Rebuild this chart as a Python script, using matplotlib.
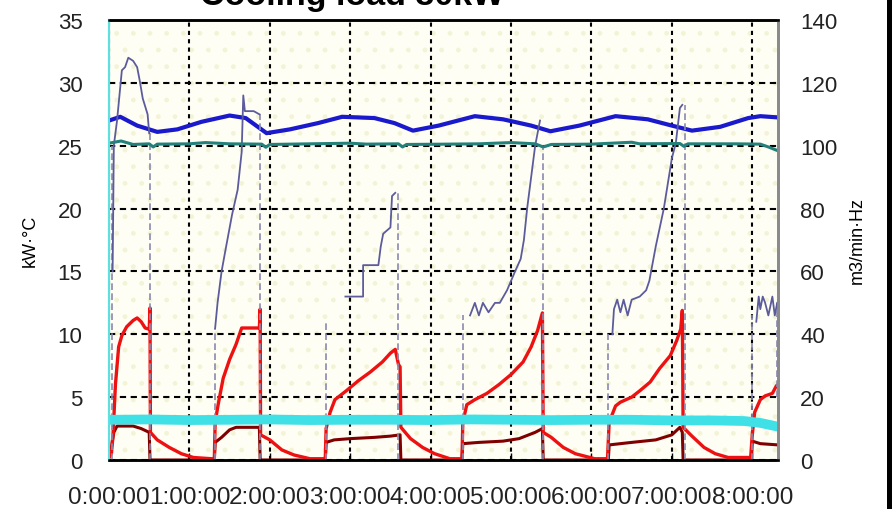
import matplotlib
matplotlib.use("Agg")
import matplotlib.pyplot as plt
import numpy as np
from matplotlib.patches import Rectangle

nan = np.nan

# time axis in hours
hour_ticks = np.arange(0, 9)
hour_labels = ["%d:00:00" % h for h in hour_ticks]

# cooling output, kW (left axis)
out_t = [0, 0.03, 0.05, 0.08, 0.12, 0.16, 0.22, 0.3, 0.35, 0.4, 0.45, 0.5, 0.51, 0.515, 0.6, 0.75, 0.9, 1.05, 1.28,
         1.31, 1.32, 1.36, 1.42, 1.5, 1.58, 1.65, 1.87, 1.88, 1.885, 2.0, 2.15, 2.3, 2.5, 2.69,
         2.70, 2.75, 2.81, 2.95, 3.1, 3.25, 3.4, 3.5, 3.56, 3.6, 3.62, 3.63, 3.75, 3.9, 4.05, 4.24, 4.39,
         4.40, 4.45, 4.55, 4.7, 4.85, 5.0, 5.15, 5.25, 5.33, 5.39, 5.40, 5.5, 5.65, 5.8, 6.04, 6.2,
         6.22, 6.3, 6.36, 6.5, 6.6, 6.73, 6.85, 6.98, 7.06, 7.11, 7.13, 7.14, 7.25, 7.4, 7.54, 7.7, 7.98,
         8.0, 8.03, 8.1, 8.16, 8.25, 8.3, 8.32]
out_kw = [0.2, 0.5, 2, 6, 9, 9.9, 10.6, 11.1, 11.3, 11.0, 10.5, 10.4, 12.1, 2.2, 1.6, 1.0, 0.5, 0.2, 0.1,
          0.1, 3.0, 4.5, 6.5, 8.0, 9.2, 10.5, 10.5, 12.0, 2.0, 1.6, 0.8, 0.4, 0.1, 0.1,
          2.5, 3.8, 4.8, 5.5, 6.3, 7.0, 7.8, 8.5, 8.8, 7.6, 7.4, 2.6, 1.7, 1.0, 0.5, 0.1, 0.1,
          3.0, 4.4, 4.8, 5.3, 6.0, 6.8, 7.8, 9.0, 10.3, 11.7, 2.2, 1.8, 1.0, 0.5, 0.1, 0.1,
          3.0, 4.3, 4.6, 5.0, 5.5, 6.2, 7.3, 8.3, 9.5, 10.4, 11.9, 2.6, 1.9, 1.0, 0.5, 0.2, 0.2,
          2.0, 3.8, 4.8, 5.1, 5.3, 5.9, 6.0]

# compressor input power, kW (left axis)
pw_t = [0, 0.03, 0.06, 0.1, 0.3, 0.4, 0.5, 0.51, 1.31,
        1.32, 1.4, 1.5, 1.58, 1.87, 1.88, 2.69,
        2.70, 2.8, 3.0, 3.3, 3.5, 3.62, 3.63, 4.39,
        4.40, 4.6, 4.9, 5.1, 5.3, 5.39, 5.40, 6.21,
        6.22, 6.5, 6.8, 7.0, 7.1, 7.13, 7.14, 7.99,
        8.0, 8.1, 8.32]
pw_kw = [0.3, 1.0, 2.2, 2.7, 2.7, 2.5, 2.2, 0, 0,
         1.4, 1.8, 2.4, 2.6, 2.6, 0, 0,
         1.4, 1.6, 1.7, 1.8, 1.9, 2.0, 0, 0,
         1.3, 1.4, 1.5, 1.7, 2.2, 2.5, 0, 0,
         1.2, 1.4, 1.6, 2.0, 2.6, 2.2, 0, 0,
         1.5, 1.3, 1.2]

# room temperature, degC (left axis)
room_t = [0, 0.14, 0.35, 0.6, 0.85, 1.15, 1.5, 1.7, 1.96, 2.25, 2.6, 2.9, 3.3, 3.55, 3.78, 4.1, 4.55, 4.9,
          5.25, 5.49, 5.85, 6.3, 6.7, 7.0, 7.25, 7.6, 7.95, 8.1, 8.32]
room_c = [27.0, 27.3, 26.6, 26.1, 26.3, 26.9, 27.4, 27.2, 26.0, 26.3, 26.8, 27.3, 27.2, 26.8, 26.2, 26.6, 27.35, 27.1,
          26.6, 26.15, 26.6, 27.35, 27.1, 26.6, 26.2, 26.5, 27.2, 27.35, 27.25]

# indoor fan, Hz (right axis)
fan_t = [0, 0.15, 0.3, 0.5, 0.55, 0.6, 1.0, 1.2, 1.5, 1.9, 1.95, 2.0, 2.5, 3.0, 3.2, 3.6, 3.65, 3.7, 4.2, 4.6,
         5.0, 5.3, 5.4, 5.5, 6.0, 6.5, 6.6, 7.1, 7.15, 7.2, 7.8, 8.1, 8.2, 8.32]
fan_hz = [100.8, 101.5, 100.4, 100.6, 99.6, 100.5, 100.6, 101.0, 100.6, 100.5, 99.5, 100.4, 100.6, 100.8, 100.5,
          100.6, 99.6, 100.4, 100.5, 100.6, 101.0, 100.6, 99.6, 100.4, 100.5, 101.1, 100.6, 100.7, 99.8, 100.6,
          100.6, 100.5, 99.6, 98.4]

# compressor frequency, Hz (right axis), nan = stopped
comp_t = [0.045, 0.06, 0.1, 0.16, 0.2, 0.24, 0.3, 0.35, 0.38, 0.42, 0.48, 0.5, nan,
          1.32, 1.35, 1.4, 1.45, 1.53, 1.6, 1.65, 1.67, 1.69, 1.8, 1.87, nan,
          2.94, 3.16, 3.16, 3.35, 3.38, 3.41, 3.5, 3.52, 3.56, nan,
          4.49, 4.55, 4.6, 4.65, 4.72, 4.8, 4.86, 4.95, 5.05, 5.12, 5.16, 5.2, 5.25, 5.3, 5.36, nan,
          6.26, 6.28, 6.32, 6.36, 6.4, 6.45, 6.5, 6.6, 6.68, 6.72, 6.8, 6.9, 7.0, 7.05, 7.1, 7.13, nan,
          8.05, 8.08, 8.1, 8.13, 8.16, 8.2, 8.25, 8.28, 8.31]
comp_hz = [60, 100, 108, 124, 125, 128, 127, 125, 121, 115, 110, 104, nan,
           42, 50, 60, 67, 78, 86, 98, 116, 111, 111, 110, nan,
           52, 52, 62, 62, 68, 72, 74, 84, 85, nan,
           46, 50, 46, 50, 47, 50, 50, 54, 60, 64, 70, 80, 90, 100, 108, nan,
           40, 48, 51, 47, 51, 46, 51, 52, 54, 57, 68, 80, 96, 101, 112, 113, nan,
           44, 52, 48, 52, 50, 46, 52, 46, 50]

# start / stop transitions of the compressor
step_t = [0.04, 0.51, 1.32, 1.88, 2.70, 3.59, 4.40, 5.40, 6.21, 7.16, 8.0, 8.31]
step_lo = [0, 0, 0, 0, 0, 0, 0, 0, 0, 0, 0, 20]
step_hi = [100, 104, 42, 110, 44, 85, 46, 100, 40, 113, 46, 50]

# supply air flow, m3/min (right axis)
air_t = [0, 0.5, 1.0, 1.5, 2.0, 2.5, 3.0, 3.5, 4.0, 4.5, 5.0, 5.5, 6.0, 6.5, 7.0, 7.5, 7.9, 8.1, 8.32]
air_m3 = [12.8, 12.9, 12.7, 12.8, 12.9, 12.7, 12.8, 12.8, 12.7, 12.9, 12.8, 12.7, 12.8, 12.8, 12.6, 12.6, 12.4, 11.8, 10.6]

plt.rcParams['font.family'] = ['Liberation Sans', 'DejaVu Sans']

fig = plt.figure(figsize=(8.92, 5.10), dpi=100)
ax = fig.add_axes([109 / 892, 1 - 461 / 510, 669 / 892, 440 / 510])
ax2 = ax.twinx()

ax.set_facecolor('#fefef5')
ax.add_patch(Rectangle((0, 0), 1, 1, transform=ax.transAxes, facecolor='none',
                       edgecolor='#f3f3d6', hatch='.', linewidth=0, zorder=0))

ax.plot(pw_t, pw_kw, color='#800000', lw=2.2, zorder=3)
ax.plot(out_t, out_kw, color='#ee1111', lw=2.4, zorder=4)
ax.plot(room_t, room_c, color='#1a1acc', lw=3, zorder=4)

ax2.vlines(step_t, step_lo, step_hi, colors='#8a8ab0', lw=1.2, linestyles=(0, (4, 2)))
ax2.plot(comp_t, comp_hz, color='#5c5c9c', lw=1.3)
ax2.plot(fan_t, fan_hz, color='#23807a', lw=2.2)
ax2.plot(air_t, air_m3, color='#3fe0e6', lw=7, solid_capstyle='butt')

xmax = 8.32
ax.set_xlim(0, xmax)
ax.set_ylim(0, 35)
ax2.set_ylim(0, 140)
ax.set_yticks(np.arange(0, 36, 5))
ax2.set_yticks(np.arange(0, 141, 20))
ax.set_xticks(hour_ticks)
ax.set_xticklabels(hour_labels, fontsize=17.5)

ax.set_axisbelow(True)
ax.grid(axis='y', color='black', lw=1.5, linestyle=(0, (3, 2.2)))
ax.grid(axis='x', color='black', lw=1.5, linestyle=(0, (2, 2)))

ax.tick_params(axis='y', length=0, pad=19, labelsize=16, labelcolor='#222222')
ax2.tick_params(axis='y', length=0, pad=16, labelsize=16, labelcolor='#222222')
ax.tick_params(axis='x', direction='in', length=5, width=1, pad=19, labelcolor='#222222')

for a in (ax, ax2):
    a.spines['top'].set_color('black')
    a.spines['top'].set_linewidth(1.8)
    a.spines['bottom'].set_color('black')
    a.spines['bottom'].set_linewidth(1.8)
    a.spines['left'].set_color('#5ee0e0')
    a.spines['left'].set_linewidth(1.5)
    a.spines['right'].set_color('#8a8a8a')
    a.spines['right'].set_linewidth(2)

ax.set_ylabel('kW·°C', fontsize=13, labelpad=14)
ax2.set_ylabel('m3/min·Hz', fontsize=13, labelpad=8)

fig.text(0.395, 1 - 5 / 510, 'Cooling load 30kW', ha='center', va='baseline',
         fontsize=24.5, fontweight='bold')
fig.patches.append(Rectangle((887 / 892, 0), 5 / 892, 1, transform=fig.transFigure,
                             facecolor='black', edgecolor='none'))

plt.savefig('out.png', dpi=100)
